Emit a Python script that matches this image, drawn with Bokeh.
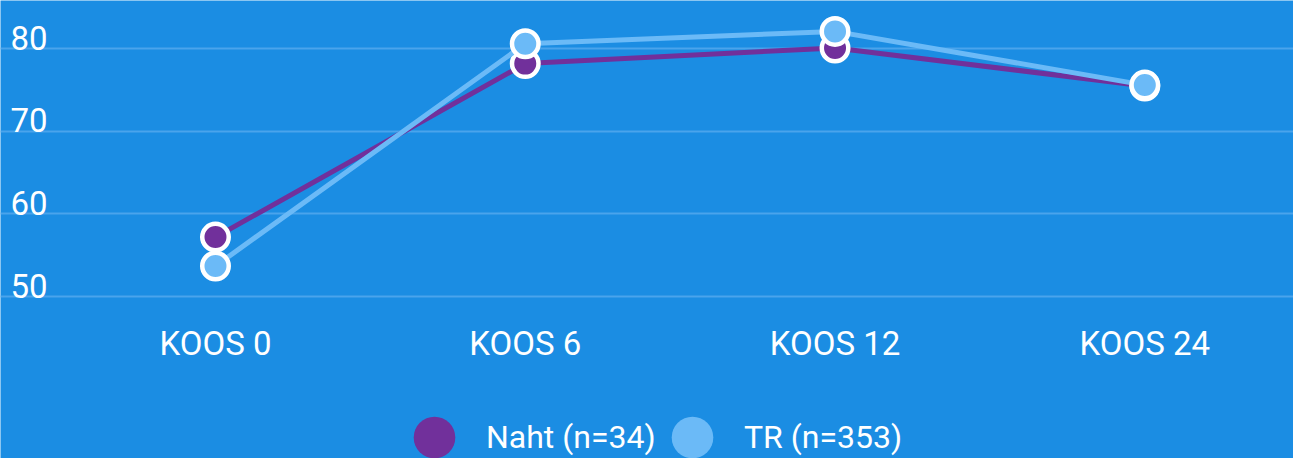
from bokeh.plotting import figure
from bokeh.models import FixedTicker, Legend, LegendItem, Range1d
from bokeh.core.properties import value
from bokeh.embed import file_html
from bokeh.resources import INLINE

# ---- data ----
categories = ["KOOS 0", "KOOS 6", "KOOS 12", "KOOS 24"]
naht = [57.2, 78.2, 80.1, 75.5]
tr = [53.7, 80.6, 82.1, 75.6]
y_ticks = [50, 60, 70, 80]
y_tick_labels = ["50", "60", "70", "80"]
series_names = ["Naht (n=34)", "TR (n=353)"]

# ---- style ----
BG = "#1b8de3"
PURPLE = "#71309b"
LIGHT = "#6bbaf7"
GRID = "#4aa4ec"
FONT = "Roboto"
FS = "33px"

xs = list(range(len(categories)))
NAN = float("nan")

p = figure(width=1293, height=458, output_backend="svg", toolbar_location=None,
           x_range=Range1d(-0.694, 3.480), y_range=Range1d(30.4, 85.84),
           x_axis_location=None, y_axis_location=None,
           min_border_left=0, min_border_right=0,
           min_border_top=0, min_border_bottom=0)
p.background_fill_color = BG
p.border_fill_color = BG
p.outline_line_color = None
p.xgrid.grid_line_color = None
p.ygrid.ticker = FixedTicker(ticks=y_ticks)
p.ygrid.grid_line_color = GRID
p.ygrid.grid_line_width = 2

# y tick labels sitting above their grid lines
p.text(x=[p.x_range.start] * len(y_ticks), y=y_ticks, text=y_tick_labels,
       x_offset=10, y_offset=-11, text_baseline="alphabetic", text_align="left",
       text_color="white", text_font=value(FONT), text_font_size=FS)

# category labels below the lowest grid line
p.text(x=xs, y=[y_ticks[0]] * len(xs), text=categories,
       y_offset=47, text_baseline="alphabetic", text_align="center",
       text_color="white", text_font=value(FONT), text_font_size=FS)

# series
p.line(xs, naht, line_color=PURPLE, line_width=5)
p.scatter(xs, naht, size=26.5, fill_color=PURPLE, line_color="white", line_width=4.5)
p.line(xs, tr, line_color=LIGHT, line_width=5)
p.scatter(xs, tr, size=26.5, fill_color=LIGHT, line_color="white", line_width=4.5)

# legend swatches (no outline, nothing drawn in the plot)
sw_n = p.scatter(x=[NAN], y=[NAN], fill_color=PURPLE, line_color=None)
sw_t = p.scatter(x=[NAN], y=[NAN], fill_color=LIGHT, line_color=None)

for r, name, vx in [(sw_n, series_names[0], 382), (sw_t, series_names[1], 640)]:
    leg = Legend(items=[LegendItem(label=name, renderers=[r])], location=(vx, -31),
                 orientation="horizontal", glyph_width=104, glyph_height=104,
                 label_standoff=0, padding=0, margin=0, spacing=0,
                 border_line_color=None, background_fill_alpha=0,
                 label_text_color="white", label_text_font=FONT,
                 label_text_font_size="32px")
    p.add_layout(leg, "center")

open("out.html", "w").write(file_html(p, INLINE))
